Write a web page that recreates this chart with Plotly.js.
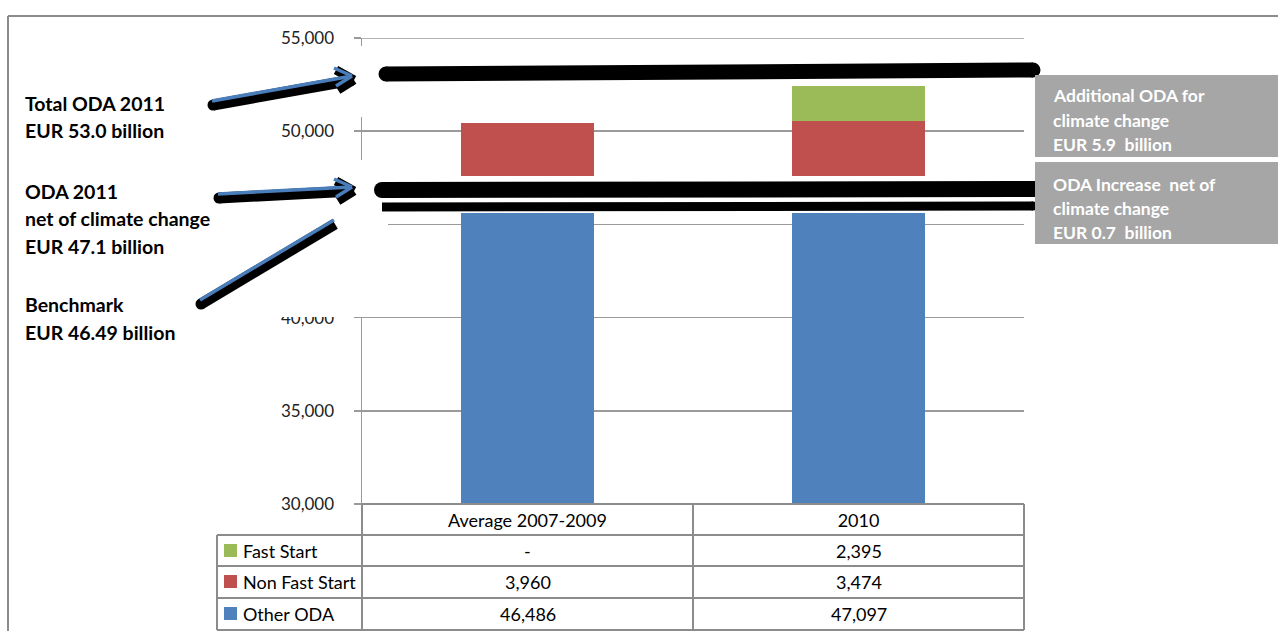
<!DOCTYPE html>
<html><head><meta charset="utf-8">
<script src="https://cdn.plot.ly/plotly-3.0.1.min.js"></script>
<style>html,body{margin:0;padding:0;background:#fff}#chart{width:1278px;height:631px}</style>
</head><body><div id="chart"></div>
<script>
// ---- data ----
const categories = ['Average 2007-2009', '2010'];
const seriesNames = ['Other ODA', 'Non Fast Start', 'Fast Start'];
const otherODA = [46486, 47097];
const nonFastStart = [3960, 3474];
const fastStart = [null, 2395];
const seriesColors = ['#4f81bd', '#c0504d', '#9bbb59'];
const yTickVals = [30000, 35000, 40000, 45000, 50000, 55000];
const yTickText = ['30,000', '35,000', '40,000', '45,000', '50,000', '55,000'];
const leftNotes = [
  ['Total ODA 2011', 'EUR 53.0 billion'],
  ['ODA 2011', 'net of climate change', 'EUR 47.1 billion'],
  ['Benchmark', 'EUR 46.49 billion']
];
const rightNotes = [
  ['Additional ODA for', 'climate change', 'EUR 5.9  billion'],
  ['ODA Increase  net of', 'climate change', 'EUR 0.7  billion']
];

// ---- geometry helpers (decorations only) ----
const L = 362, T = 38, PW = 662, PH = 466;
const X = p => (p - L) / PW;
const Y = p => (T + PH - p) / PH;
const FONT = 'Lato, "Liberation Sans", sans-serif';
const GRID = '#9a9a9a';

const seriesVals = [otherODA, nonFastStart, fastStart];
const traces = seriesNames.map((n, i) => ({
  type: 'bar', name: n, x: categories, y: seriesVals[i],
  marker: {color: seriesColors[i]}, showlegend: false, hoverinfo: 'skip'
}));

const shapes = [];
const ann = [];
function line(x0, y0, x1, y1, color, width, layer) {
  shapes.push({type: 'line', xref: 'paper', yref: 'paper', x0: X(x0), y0: Y(y0), x1: X(x1), y1: Y(y1),
    line: {color: color, width: width}, layer: layer || 'above'});
}
function rect(x0, y0, x1, y1, color, layer) {
  shapes.push({type: 'rect', xref: 'paper', yref: 'paper', x0: X(x0), y0: Y(y0), x1: X(x1), y1: Y(y1),
    fillcolor: color, line: {width: 0}, layer: layer || 'above'});
}
function circ(cx, cy, r, color) {
  shapes.push({type: 'circle', xref: 'paper', yref: 'paper', x0: X(cx - r), y0: Y(cy - r), x1: X(cx + r), y1: Y(cy + r),
    fillcolor: color, line: {width: 0}, layer: 'above'});
}

// top gridline at the range maximum (Plotly omits it at the edge)
shapes.push({type: 'line', xref: 'paper', yref: 'y', x0: 0, x1: 1, y0: yTickVals[yTickVals.length - 1],
  y1: yTickVals[yTickVals.length - 1], line: {color: GRID, width: 1.5}, layer: 'below'});

// outer frame
line(8, 16, 1290, 16, '#8c8c8c', 2);
line(8, 16, 8, 640, '#8c8c8c', 2);

// white break bands
rect(370, 46, 1040, 86, '#fff');
rect(335, 46, 370, 117, '#fff');
rect(370, 176, 1040, 213, '#fff');
rect(222, 160, 388, 317, '#fff');

// black break lines
line(386, 74, 1033, 70, '#000', 15); circ(386, 74, 7.5, '#000'); circ(1033, 70, 7.5, '#000');
line(382, 190, 1035, 189, '#000', 16); circ(382, 190, 8, '#000'); circ(1035, 189, 8, '#000');
line(382, 207, 1033, 206, '#000', 9); circ(1033, 206, 4.5, '#000');

// grey note boxes
rect(1035, 75, 1290, 157, '#a6a6a6');
rect(1035, 162, 1290, 244, '#a6a6a6');

// arrows: black shadow then blue line
function arrow(x0, y0, x1, y1, head) {
  line(x0 + 1, y0 + 4, x1 + 1, y1 + 4, '#000', 11);
  circ(x0 + 1, y0 + 4, 5.5, '#000');
  if (head) {
    line(x1 - 16, y1 - 6, x1 + 2, y1 + 4, '#000', 9);
    line(x1 - 14, y1 + 14, x1 + 2, y1 + 4, '#000', 9);
  }
  line(x0, y0, x1, y1, '#4a7ebb', 3.5);
  if (head) {
    line(x1 - 18, y1 - 8, x1, y1, '#4a7ebb', 3.5);
    line(x1 - 16, y1 + 10, x1, y1, '#4a7ebb', 3.5);
  }
}
arrow(212, 101, 352, 76, true);
arrow(218, 194, 352, 187, true);
arrow(200, 300, 334, 220, false);

// left notes
const leftStart = [103, 191, 305];
leftNotes.forEach((g, gi) => g.forEach((t, li) => ann.push({
  xref: 'paper', yref: 'paper', x: X(23), y: Y(leftStart[gi] + li * 27.5), xanchor: 'left', yanchor: 'middle',
  text: t, showarrow: false, font: {family: FONT, size: 19.5, color: '#000', weight: 'bold'}
})));
// right notes
const rightStart = [96, 184];
rightNotes.forEach((g, gi) => g.forEach((t, li) => ann.push({
  xref: 'paper', yref: 'paper', x: X(1051), y: Y(rightStart[gi] + li * 24), xanchor: 'left', yanchor: 'middle',
  text: t, showarrow: false, font: {family: FONT, size: 17.5, color: '#fff', weight: 'bold'}
})));

// data table
const TB = '#8c8c8c';
line(362, 504, 1024, 504, TB, 2);
[535, 566, 598, 630].forEach(y => line(217, y, 1024, y, TB, 2));
line(217, 535, 217, 630, TB, 2);
[362, 693, 1024].forEach(x => line(x, 504, x, 630, TB, 2));
const rowNames = ['Fast Start', 'Non Fast Start', 'Other ODA'];
const rowVals = [fastStart, nonFastStart, otherODA];
const rowColors = [seriesColors[2], seriesColors[1], seriesColors[0]];
const rowY = [551, 582, 614];
rowNames.forEach((n, ri) => {
  rect(224, rowY[ri] - 7, 237, rowY[ri] + 6, rowColors[ri]);
  ann.push({xref: 'paper', yref: 'paper', x: X(241), y: Y(rowY[ri]), xanchor: 'left', yanchor: 'middle',
    text: n, showarrow: false, font: {family: FONT, size: 18, color: '#000'}});
  categories.forEach((c, ci) => {
    const v = rowVals[ri][ci];
    ann.push({xref: 'x', yref: 'paper', x: ci, y: Y(rowY[ri]), xanchor: 'center', yanchor: 'middle',
      text: v == null ? '-' : v.toLocaleString('en-US'), showarrow: false,
      font: {family: FONT, size: 18, color: '#000'}});
  });
});

const layout = {
  width: 1278, height: 631,
  margin: {l: L, r: 1278 - L - PW, t: T, b: 631 - T - PH, pad: 0},
  paper_bgcolor: '#fff', plot_bgcolor: '#fff',
  barmode: 'stack', bargap: 0.6,
  showlegend: false,
  xaxis: {type: 'category', range: [-0.5, 1.5], autorange: false, showline: false, ticks: '', showgrid: false, zeroline: false,
    tickfont: {family: FONT, size: 18, color: '#000'}, ticklabelstandoff: 4},
  yaxis: {range: [30000, 55000], autorange: false, tickvals: yTickVals, ticktext: yTickText, showline: true,
    linecolor: GRID, linewidth: 1.5, ticks: 'outside', ticklen: 7, tickcolor: GRID, tickwidth: 1.5,
    gridcolor: GRID, gridwidth: 1.5, zeroline: false, ticklabelstandoff: 16,
    tickfont: {family: FONT, size: 17, color: '#222'}},
  shapes: shapes, annotations: ann
};
Plotly.newPlot('chart', traces, layout, {staticPlot: true, displayModeBar: false});
</script></body></html>
